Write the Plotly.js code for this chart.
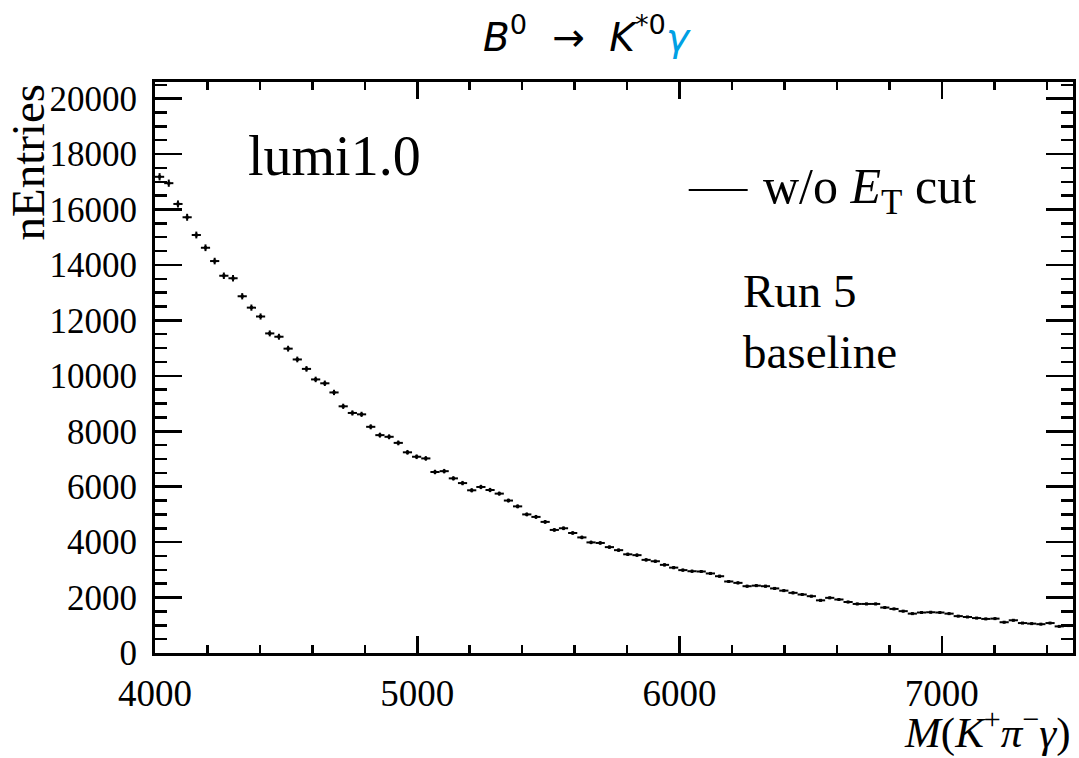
<!DOCTYPE html>
<html>
<head>
<meta charset="utf-8">
<script src="https://cdn.plot.ly/plotly-3.0.1.min.js"></script>
<style>html,body{margin:0;padding:0;background:#fff;}#chart{width:1079px;height:758px;}</style>
</head>
<body>
<div id="chart"></div>
<script>
// Histogram binning (100 bins from 4000 to 7500)
const binStart = 4000;
const binWidth = 35;
// Bin contents
const counts = [
  17180, 16950, 16200, 15720, 15080, 14620, 14140, 13610, 13520, 12870,
  12460, 12140, 11530, 11410, 10980, 10590, 10250, 9870, 9730, 9400,
  8900, 8660, 8610, 8160, 7860, 7800, 7580, 7240, 7080, 7020,
  6530, 6560, 6300, 6130, 5870, 5990, 5880, 5750, 5500, 5290,
  5000, 4910, 4730, 4440, 4500, 4330, 4170, 3990, 3970, 3820,
  3710, 3560, 3530, 3360, 3310, 3180, 3080, 2990, 2950, 2940,
  2870, 2770, 2580, 2530, 2410, 2430, 2410, 2330, 2250, 2170,
  2110, 2050, 1900, 1990, 1930, 1840, 1770, 1770, 1770, 1640,
  1590, 1510, 1420, 1460, 1470, 1460, 1420, 1330, 1300, 1260,
  1230, 1240, 1110, 1180, 1080, 1060, 1040, 1080, 960, 990
];
const xTickVals = [4000, 5000, 6000, 7000];
const xTickText = ['4000', '5000', '6000', '7000'];
const yTickVals = [0, 2000, 4000, 6000, 8000, 10000, 12000, 14000, 16000, 18000, 20000];
const yTickText = ['0', '2000', '4000', '6000', '8000', '10000', '12000', '14000', '16000', '18000', '20000'];
const titleText = '<i>B</i><sup>0</sup>  \u2192  <i>K</i><sup>*0</sup><span style="color:#00a0e4"><i>\u03b3</i></span>';
const xTitle = '<i>M</i>(<i>K</i><sup>+</sup><i>\u03c0</i><sup>\u2212</sup><i>\u03b3</i>)';
const yTitle = 'nEntries';
const legendLabel = 'w/o <i>E</i><sub>T</sub> cut';
const lumiLabel = 'lumi1.0';
const runLabel = 'Run 5<br>baseline';

const centers = counts.map((_, i) => binStart + binWidth * (i + 0.5));
const errs = counts.map(v => Math.sqrt(v));

const W = 1079, H = 758;
const L = 155, R = 1073.5, T = 82, B = 653;
const px = x => (x - L) / (R - L);
const py = y => (B - y) / (B - T);
const serif = 'Liberation Serif';

const trace = {
  type: 'scatter', mode: 'markers', x: centers, y: counts,
  marker: {symbol: 'square', size: 3, color: '#000'},
  error_y: {type: 'data', array: errs, visible: true, color: '#000', thickness: 2, width: 0},
  error_x: {type: 'constant', value: binWidth / 2, visible: true, color: '#000', thickness: 2, width: 0},
  showlegend: false, hoverinfo: 'skip'
};

const layout = {
  width: W, height: H,
  margin: {l: L, r: W - R, t: T, b: H - B, pad: 0},
  paper_bgcolor: '#fff', plot_bgcolor: '#fff',
  font: {family: serif, size: 36, color: '#000'},
  showlegend: false,
  title: {
    text: titleText,
    font: {family: 'DejaVu Sans', size: 39, color: '#000'},
    x: 586 / W, xref: 'container', xanchor: 'center',
    y: 1 - 37 / H, yref: 'container', yanchor: 'middle'
  },
  xaxis: {
    range: [4000, 7500], tickmode: 'array', tickvals: xTickVals, ticktext: xTickText,
    ticks: 'inside', ticklen: 17, tickwidth: 2.5, tickcolor: '#000',
    minor: {dtick: 200, ticks: 'inside', ticklen: 8, tickwidth: 2.5, tickcolor: '#000'},
    showline: true, linewidth: 3, linecolor: '#000', mirror: 'allticks',
    showgrid: false, zeroline: false,
    tickfont: {family: serif, size: 37, color: '#000'}, ticklabelstandoff: 6
  },
  yaxis: {
    range: [0, 20600], tickmode: 'array', tickvals: yTickVals, ticktext: yTickText,
    ticks: 'inside', ticklen: 27, tickwidth: 2.5, tickcolor: '#000',
    minor: {dtick: 500, ticks: 'inside', ticklen: 12, tickwidth: 2.5, tickcolor: '#000'},
    showline: true, linewidth: 3, linecolor: '#000', mirror: 'allticks',
    showgrid: false, zeroline: false,
    tickfont: {family: serif, size: 35, color: '#000'}, ticklabelstandoff: 8
  },
  annotations: [
    {text: yTitle, xref: 'paper', yref: 'paper', x: px(27), y: py(82), xanchor: 'center', yanchor: 'top',
     textangle: -90, showarrow: false, font: {family: serif, size: 47, color: '#000'}},
    {text: xTitle, xref: 'paper', yref: 'paper', x: px(1073), y: py(729), xanchor: 'right', yanchor: 'middle',
     showarrow: false, font: {family: serif, size: 43, color: '#000'}},
    {text: lumiLabel, xref: 'paper', yref: 'paper', x: px(246), y: py(156), xanchor: 'left', yanchor: 'middle',
     showarrow: false, font: {family: serif, size: 56, color: '#000'}},
    {text: legendLabel, xref: 'paper', yref: 'paper', x: px(761), y: py(190), xanchor: 'left', yanchor: 'middle',
     showarrow: false, font: {family: serif, size: 50, color: '#000'}},
    {text: runLabel, xref: 'paper', yref: 'paper', x: px(741), y: py(321), xanchor: 'left', yanchor: 'middle',
     align: 'left', showarrow: false, font: {family: serif, size: 47, color: '#000'}}
  ],
  shapes: [
    {type: 'line', xref: 'paper', yref: 'paper', x0: px(689), x1: px(748), y0: py(190), y1: py(190),
     line: {color: '#000', width: 2}}
  ]
};

Plotly.newPlot('chart', [trace], layout, {displayModeBar: false, staticPlot: true});
</script>
</body>
</html>
